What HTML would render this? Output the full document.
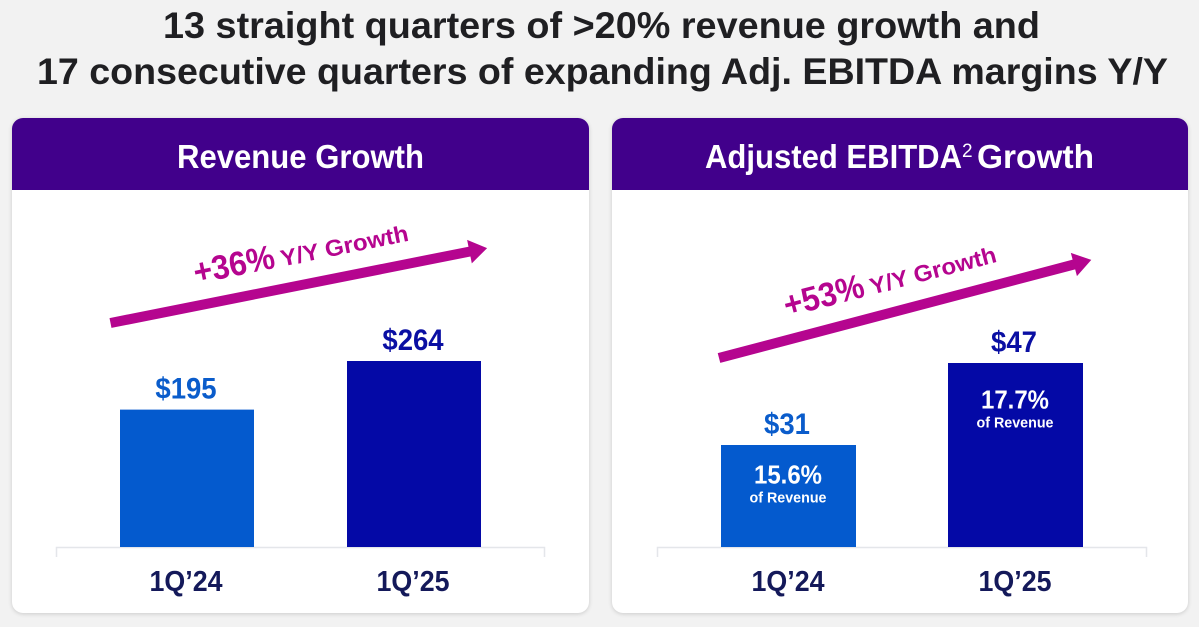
<!DOCTYPE html>
<html lang="en">
<head>
<meta charset="utf-8">
<title>Revenue and Adjusted EBITDA Growth</title>
<style>
html,body{margin:0;padding:0;background:#f2f2f2;}
body{width:1199px;height:627px;overflow:hidden;position:relative;font-family:"Liberation Sans",sans-serif;}
.card{position:absolute;top:118px;height:495px;background:#fff;border-radius:11px;box-shadow:0 1px 4px rgba(0,0,0,.16);}
svg{position:absolute;left:0;top:0;}
text{font-family:"Liberation Sans",sans-serif;font-weight:bold;}
</style>
</head>
<body>
<div class="card" style="left:12px;width:577px"></div>
<div class="card" style="left:612px;width:576px"></div>
<svg id="chart" width="1199" height="627" viewBox="0 0 1199 627">
  <text x="601.5" y="38" text-anchor="middle" font-size="37" fill="#1f1f22" textLength="877" lengthAdjust="spacingAndGlyphs">13 straight quarters of &gt;20% revenue growth and</text>
  <text x="602.5" y="84" text-anchor="middle" font-size="37" fill="#1f1f22" textLength="1131" lengthAdjust="spacingAndGlyphs">17 consecutive quarters of expanding Adj. EBITDA margins Y/Y</text>

  <path d="M12 190V129a11 11 0 0 1 11-11H578a11 11 0 0 1 11 11V190Z" fill="#41008b"/>
  <path d="M612 190V129a11 11 0 0 1 11-11H1177a11 11 0 0 1 11 11V190Z" fill="#41008b"/>
  <text x="300.5" y="168" text-anchor="middle" font-size="33" fill="#fff" textLength="247" lengthAdjust="spacingAndGlyphs">Revenue Growth</text>
  <text x="705" y="168" font-size="33" fill="#fff" textLength="257" lengthAdjust="spacingAndGlyphs">Adjusted EBITDA</text>
  <text x="962" y="157" font-size="19" fill="#fff" style="font-weight:normal">2</text>
  <text x="977" y="168" font-size="33" fill="#fff" textLength="117" lengthAdjust="spacingAndGlyphs">Growth</text>

  <g transform="translate(110.5,323) rotate(-11.25)">
    <polygon points="0,-5 366,-5 366,-12 384,0 366,12 366,5 0,5" fill="#b5058f"/>
  </g>
  <g transform="translate(719,358) rotate(-14.76)">
    <polygon points="0,-5 367,-5 367,-12 385,0 367,12 367,5 0,5" fill="#b5058f"/>
  </g>
  <g transform="translate(196,284) rotate(-11.5)" fill="#b5058f">
    <text x="0" y="0" font-size="34" textLength="82" lengthAdjust="spacingAndGlyphs">+36%</text>
    <text x="88" y="0" font-size="23" textLength="130" lengthAdjust="spacingAndGlyphs">Y/Y Growth</text>
  </g>
  <g transform="translate(787,317) rotate(-14.7)" fill="#b5058f">
    <text x="0" y="0" font-size="34" textLength="82" lengthAdjust="spacingAndGlyphs">+53%</text>
    <text x="88" y="0" font-size="23" textLength="130" lengthAdjust="spacingAndGlyphs">Y/Y Growth</text>
  </g>

  <path d="M56.5 557V547.5H544.5V557" fill="none" stroke="#e4e6ea" stroke-width="1.5"/>
  <path d="M657.5 557V547.5H1146.5V557" fill="none" stroke="#e4e6ea" stroke-width="1.5"/>
  <g id="marks"></g>
</svg>
<script>
var categories = ["1Q\u201924", "1Q\u201925"];
var revenueValues = [195, 264];
var ebitdaValues = [31, 47];
var marginValues = [15.6, 17.7];

var svgNS = "http://www.w3.org/2000/svg";
var marks = document.getElementById("marks");
var baseline = 547;
var barColors = ["#045ace", "#0409a6"];
var labelColors = ["#0a5ccb", "#0a0fa3"];

function revenueY(v) { return baseline - v * (186 / 264); }
function ebitdaY(v) { return baseline - (v - 11.1) * (184 / 35.9); }
function revenueX(i) { return 120 + i * 227; }
function ebitdaX(i) { return 721 + i * 227; }

function makeText(str, x, y, size, fill, fitWidth) {
  var t = document.createElementNS(svgNS, "text");
  t.setAttribute("x", x);
  t.setAttribute("y", y);
  t.setAttribute("font-size", size);
  t.setAttribute("fill", fill);
  t.setAttribute("text-anchor", "middle");
  t.setAttribute("textLength", fitWidth);
  t.setAttribute("lengthAdjust", "spacingAndGlyphs");
  t.textContent = str;
  marks.appendChild(t);
  return t;
}
function makeBar(x, top, w, fill) {
  var r = document.createElementNS(svgNS, "rect");
  r.setAttribute("x", x);
  r.setAttribute("y", top);
  r.setAttribute("width", w);
  r.setAttribute("height", baseline - top);
  r.setAttribute("fill", fill);
  marks.appendChild(r);
  return r;
}

revenueValues.forEach(function (v, i) {
  var top = revenueY(v);
  var x = revenueX(i);
  var bar = makeBar(x, top, 134, barColors[i]);
  
  
  var valStr = "$" + v;
  var val = makeText(valStr, x + 66, top - 11, 30, labelColors[i], valStr.length * 15.3);
  
  
  var cat = makeText(categories[i], x + 66, 591, 29, "#14195a", 73);
  
  
});

ebitdaValues.forEach(function (v, i) {
  var top = ebitdaY(v);
  var x = ebitdaX(i);
  var h = baseline - top;
  var bar = makeBar(x, top, 135, barColors[i]);
  
  
  var valStr = "$" + v;
  var val = makeText(valStr, x + 66, top - 11, 30, labelColors[i], valStr.length * 15.3);
  
  
  var cat = makeText(categories[i], x + 67, 591, 29, "#14195a", 73);
  
  
  var innerY = top + 30 + h * 0.085;
  var pct = makeText(marginValues[i].toFixed(1) + "%", x + 67, innerY, 26, "#ffffff", 68);
  
  
  var sub = makeText("of Revenue", x + 67, innerY + 19, 15, "#ffffff", 77);
  
  
});
</script>
</body>
</html>
